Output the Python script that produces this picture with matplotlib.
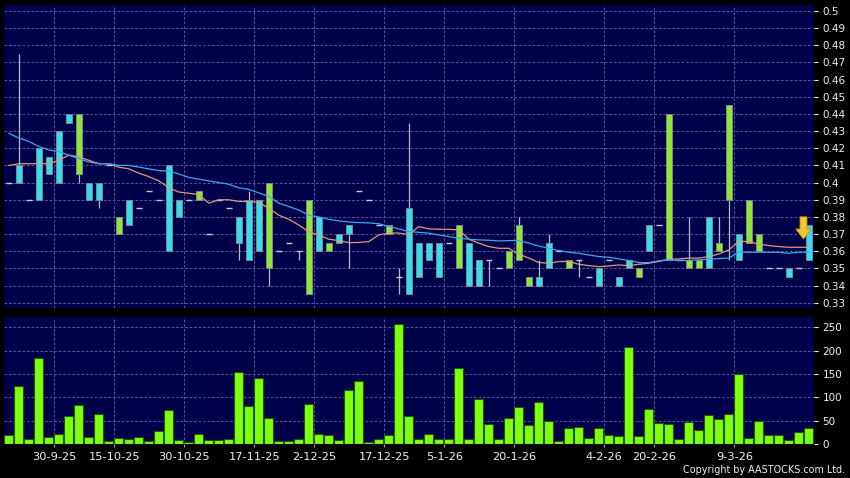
import matplotlib
matplotlib.use('Agg')
import matplotlib.pyplot as plt
import numpy as np

# daily prices (one entry per trading day)
opens = [0.40, 0.41, 0.39, 0.42, 0.415, 0.43, 0.44, 0.405, 0.40, 0.40,
         0.41, 0.37, 0.39, 0.385, 0.395, 0.39, 0.41, 0.39, 0.39, 0.39,
         0.37, 0.39, 0.385, 0.38, 0.39, 0.39, 0.35, 0.36, 0.365, 0.36,
         0.335, 0.38, 0.36, 0.37, 0.375, 0.395, 0.39, 0.375, 0.37, 0.345,
         0.385, 0.365, 0.365, 0.365, 0.365, 0.35, 0.365, 0.355, 0.355, 0.35,
         0.35, 0.355, 0.34, 0.345, 0.365, 0.36, 0.35, 0.355, 0.345, 0.35,
         0.355, 0.345, 0.355, 0.345, 0.375, 0.375, 0.355, 0.355, 0.35, 0.35,
         0.38, 0.36, 0.39, 0.37, 0.365, 0.36, 0.35, 0.35, 0.35, 0.35,
         0.375]
closes = [0.40, 0.40, 0.39, 0.39, 0.405, 0.40, 0.435, 0.44, 0.39, 0.39,
          0.41, 0.38, 0.375, 0.385, 0.395, 0.39, 0.36, 0.38, 0.39, 0.395,
          0.37, 0.39, 0.385, 0.365, 0.355, 0.36, 0.40, 0.36, 0.365, 0.36,
          0.39, 0.36, 0.365, 0.365, 0.37, 0.395, 0.39, 0.375, 0.375, 0.345,
          0.335, 0.345, 0.355, 0.345, 0.365, 0.375, 0.34, 0.34, 0.355, 0.35,
          0.36, 0.375, 0.345, 0.34, 0.35, 0.36, 0.355, 0.355, 0.345, 0.34,
          0.355, 0.34, 0.35, 0.35, 0.36, 0.375, 0.44, 0.355, 0.355, 0.355,
          0.35, 0.365, 0.445, 0.355, 0.39, 0.37, 0.35, 0.35, 0.345, 0.35,
          0.355]
highs = [0.40, 0.475, 0.39, 0.42, 0.415, 0.43, 0.44, 0.44, 0.40, 0.40,
         0.41, 0.38, 0.39, 0.385, 0.395, 0.39, 0.41, 0.39, 0.39, 0.395,
         0.37, 0.39, 0.385, 0.38, 0.395, 0.39, 0.40, 0.36, 0.365, 0.36,
         0.39, 0.38, 0.365, 0.37, 0.375, 0.395, 0.39, 0.375, 0.375, 0.35,
         0.435, 0.365, 0.365, 0.365, 0.365, 0.375, 0.365, 0.355, 0.355, 0.35,
         0.36, 0.38, 0.345, 0.355, 0.37, 0.36, 0.355, 0.355, 0.345, 0.35,
         0.355, 0.345, 0.355, 0.35, 0.375, 0.375, 0.44, 0.355, 0.38, 0.355,
         0.38, 0.38, 0.445, 0.37, 0.39, 0.37, 0.35, 0.35, 0.35, 0.35,
         0.375]
lows = [0.40, 0.40, 0.39, 0.39, 0.405, 0.40, 0.435, 0.40, 0.39, 0.385,
        0.41, 0.37, 0.375, 0.385, 0.395, 0.39, 0.36, 0.38, 0.39, 0.39,
        0.37, 0.39, 0.385, 0.355, 0.355, 0.36, 0.34, 0.36, 0.365, 0.355,
        0.335, 0.36, 0.36, 0.365, 0.35, 0.395, 0.39, 0.375, 0.37, 0.335,
        0.335, 0.345, 0.355, 0.345, 0.365, 0.35, 0.34, 0.34, 0.34, 0.35,
        0.35, 0.355, 0.34, 0.34, 0.35, 0.36, 0.35, 0.345, 0.345, 0.34,
        0.355, 0.34, 0.35, 0.345, 0.36, 0.375, 0.355, 0.355, 0.35, 0.35,
        0.35, 0.36, 0.355, 0.355, 0.365, 0.36, 0.35, 0.35, 0.345, 0.35,
        0.355]
volumes = [20, 125, 10, 185, 16, 21, 60, 83, 16, 65,
           6, 13, 11, 16, 6, 27, 73, 9, 5, 21,
           8, 8, 10, 155, 81, 142, 55, 6, 6, 11,
           85, 22, 19, 8, 116, 135, 4, 10, 20, 256,
           60, 11, 22, 10, 10, 162, 10, 96, 42, 10,
           55, 80, 40, 91, 50, 6, 34, 37, 13, 34,
           20, 18, 208, 17, 75, 45, 42, 10, 47, 30,
           63, 54, 65, 150, 12, 50, 20, 20, 8, 25,
           35]
# moving averages
ma10 = [0.410, 0.411, 0.411, 0.411, 0.411, 0.413, 0.416, 0.415, 0.413, 0.411,
        0.411, 0.409, 0.408, 0.4055, 0.4035, 0.401, 0.397, 0.3945, 0.3938, 0.393,
        0.388, 0.390, 0.390, 0.389, 0.389, 0.3885, 0.385, 0.381, 0.3786, 0.3753,
        0.3713, 0.3695, 0.367, 0.3662, 0.365, 0.3651, 0.3656, 0.3695, 0.3706, 0.3706,
        0.3697, 0.3744, 0.373, 0.3728, 0.3728, 0.3724, 0.367, 0.3647, 0.3627, 0.3617,
        0.3617, 0.3583, 0.356, 0.3534, 0.353, 0.354, 0.354, 0.3524, 0.3516, 0.351,
        0.3514, 0.352, 0.3516, 0.3524, 0.353, 0.354, 0.3553, 0.3555, 0.356, 0.356,
        0.3569, 0.3584, 0.3608, 0.3657, 0.3657, 0.3641, 0.3633, 0.3627, 0.3623, 0.3623,
        0.3623]
ma20 = [0.4287, 0.426, 0.424, 0.421, 0.419, 0.418, 0.416, 0.414, 0.412, 0.411,
        0.411, 0.410, 0.410, 0.409, 0.408, 0.407, 0.4067, 0.405, 0.403, 0.402,
        0.401, 0.400, 0.399, 0.397, 0.396, 0.394, 0.392, 0.388, 0.386, 0.384,
        0.381, 0.380, 0.3786, 0.3777, 0.377, 0.3767, 0.3765, 0.376, 0.3744, 0.373,
        0.3715, 0.371, 0.3705, 0.3695, 0.3685, 0.3676, 0.367, 0.3666, 0.3664, 0.366,
        0.3662, 0.3662, 0.3647, 0.363, 0.3617, 0.3604, 0.3594, 0.3588, 0.3578, 0.3569,
        0.3565, 0.3555, 0.3546, 0.3534, 0.3534, 0.3544, 0.355, 0.3546, 0.3546, 0.355,
        0.3553, 0.3557, 0.356, 0.3594, 0.3594, 0.3594, 0.3594, 0.3594, 0.3588, 0.3594,
        0.3594]
date_pos = [5, 11, 18, 25, 31, 38, 44, 51, 60, 65, 73]
date_labels = ['30-9-25', '15-10-25', '30-10-25', '17-11-25', '2-12-25', '17-12-25',
               '5-1-26', '20-1-26', '4-2-26', '20-2-26', '9-3-26']

BG = '#00004a'
GRID = '#5c5ca0'
TXT = '#f0f0f0'
UP = '#8ee635'
DOWN = '#38dcea'

plt.rcParams['font.family'] = 'DejaVu Sans'
fig = plt.figure(figsize=(8.5, 4.78), dpi=100, facecolor='black')
ax1 = fig.add_axes([4/850, 1 - 308/478, 810/850, 303/478])
ax2 = fig.add_axes([4/850, 1 - 444/478, 810/850, 127/478])

x = np.arange(len(closes))
o = np.array(opens)
c = np.array(closes)

for ax in (ax1, ax2):
    ax.set_facecolor(BG)
    for s in ax.spines.values():
        s.set_visible(False)
    ax.set_xlim(-0.48, len(x) - 0.48)
    ax.set_xticks(np.array(date_pos) - 0.45)
    ax.grid(True, color=GRID, linestyle=(0, (3, 2)), linewidth=0.65)
    ax.set_axisbelow(True)
    ax.yaxis.tick_right()
    ax.tick_params(axis='y', length=3, width=0.8, color=TXT, labelcolor=TXT,
                   labelsize=7.5, pad=3)

# price panel
body_lo = np.minimum(o, c)
body_hi = np.maximum(o, c)
ax1.vlines(x, lows, highs, color='#b8b8c8', linewidth=0.9, zorder=2)
up = c > o
down = c < o
flat = c == o
ax1.bar(x[up], (body_hi - body_lo)[up], bottom=body_lo[up], width=0.6,
        color=UP, edgecolor='#7a8a90', linewidth=0.7, zorder=3)
ax1.bar(x[down], (body_hi - body_lo)[down], bottom=body_lo[down], width=0.6,
        color=DOWN, edgecolor='#7a8a90', linewidth=0.7, zorder=3)
ax1.hlines(c[flat], x[flat] - 0.3, x[flat] + 0.3, color='#c8c8d8', linewidth=1.0, zorder=3)
ax1.plot(x, ma10, color='#e09a72', linewidth=0.9, zorder=4)
ax1.plot(x, ma20, color='#3aa8ee', linewidth=0.9, zorder=4)

# marker arrow over the latest candle
ax1.annotate('', xy=(x[-1] - 0.53, 0.3671), xytext=(0, 16),
             textcoords='offset points',
             arrowprops=dict(arrowstyle='simple,head_length=0.72,head_width=1.1,tail_width=0.5',
                             mutation_scale=10, fc='#f8c828', ec='#c89010', lw=0.6,
                             shrinkA=0, shrinkB=0), zorder=6)

ax1.set_ylim(0.32691, 0.50349)
yt = np.round(np.arange(0.33, 0.5001, 0.01), 2)
ax1.set_yticks(yt)
ax1.set_yticklabels(['%g' % v for v in yt])
ax1.tick_params(axis='x', length=0, labelbottom=False)

# volume panel
ax2.bar(x, volumes, width=0.9, color='#80ff10', edgecolor='#1e5a00', linewidth=0.8, zorder=3)
ax2.set_ylim(0, 272)
ax2.set_yticks(range(0, 251, 50))
ax2.set_xticklabels(date_labels)
ax2.tick_params(axis='x', length=2.5, width=0.8, color='#a0a0a0', labelcolor=TXT,
                labelsize=8.2, pad=3)

fig.text(0.994, 0.017, 'Copyright by AASTOCKS.com Ltd.', color=TXT, fontsize=6.9,
         ha='right', va='center')

fig.savefig('out.png', dpi=100, facecolor='black')
